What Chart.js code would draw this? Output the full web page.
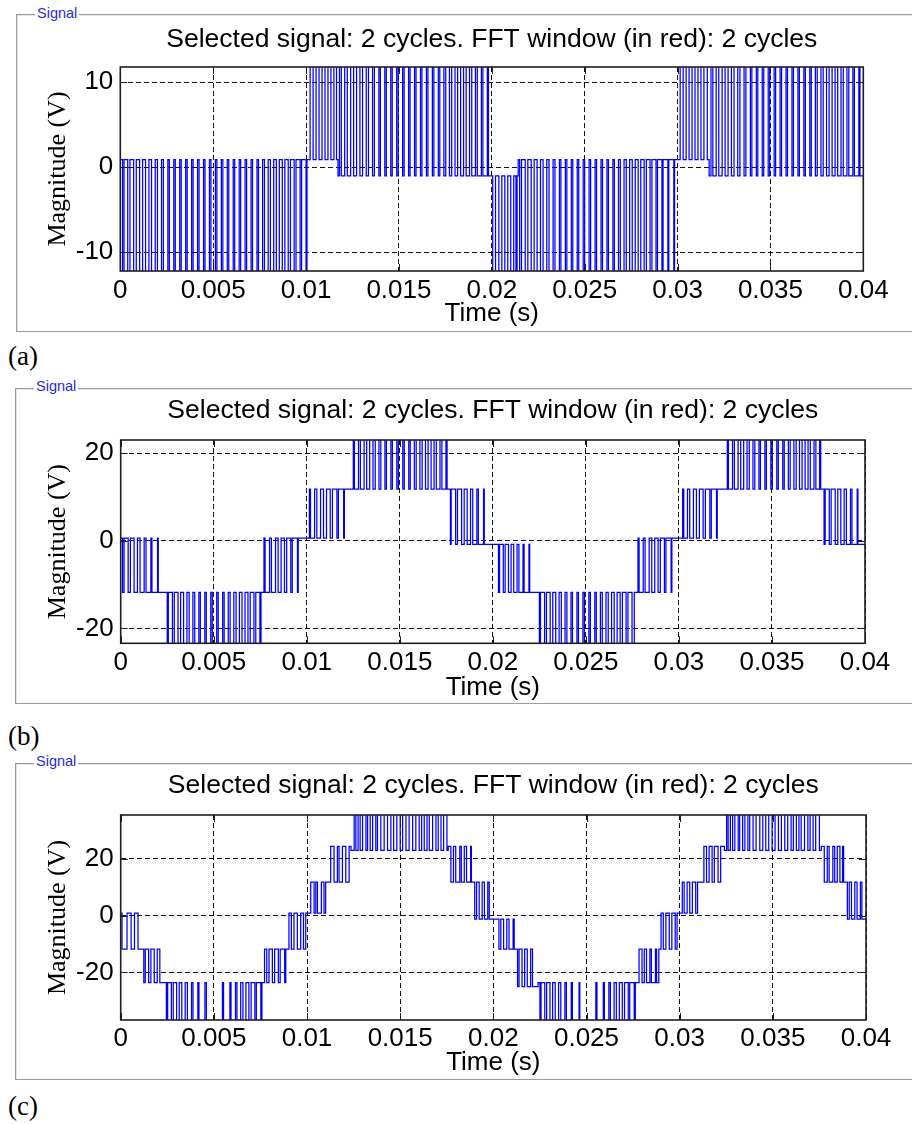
<!DOCTYPE html>
<html><head><meta charset="utf-8">
<script src="https://cdn.jsdelivr.net/npm/chart.js@4.4.1/dist/chart.umd.min.js"></script>
<style>
html,body{margin:0;padding:0;background:#fff;}
body{width:912px;height:1124px;position:relative;overflow:hidden;}
.frame{position:absolute;border:1px solid #9c9c9c;box-shadow:inset 1px 1px 0 #e4e4e4;}
.sig{position:absolute;font:14.5px "Liberation Sans",Arial,sans-serif;color:#2a2ad8;background:#fff;padding:0 2px;line-height:16px;}
.lab{position:absolute;left:8px;font:27px "Liberation Serif","Times New Roman",serif;line-height:27px;color:#000;}
canvas{position:absolute;left:0;}
</style></head><body>
<div class="frame" style="left:16px;top:14px;width:1000px;height:316px"></div>
<div class="sig" style="left:35px;top:5px">Signal</div>
<div class="lab" style="top:343px">(a)</div>
<div class="frame" style="left:15px;top:388px;width:1000px;height:314px"></div>
<div class="sig" style="left:34px;top:378px">Signal</div>
<div class="lab" style="top:723px">(b)</div>
<div class="frame" style="left:15px;top:763px;width:1000px;height:315px"></div>
<div class="sig" style="left:34px;top:753px">Signal</div>
<div class="lab" style="top:1093px">(c)</div>
<canvas id="ca" width="912" height="335" style="top:0px;width:912px;height:335px"></canvas>
<canvas id="cb" width="912" height="334" style="top:371px;width:912px;height:334px"></canvas>
<canvas id="cc" width="912" height="334" style="top:746px;width:912px;height:334px"></canvas>
<script>
const titleText = 'Selected signal: 2 cycles. FFT window (in red): 2 cycles';
const xTitle = 'Time (s)';
const yTitle = 'Magnitude (V)';
const xTickValues = [0, 0.005, 0.01, 0.015, 0.02, 0.025, 0.03, 0.035, 0.04];
const xTickLabels = ['0', '0.005', '0.01', '0.015', '0.02', '0.025', '0.03', '0.035', '0.04'];
const aYTicks = [-10, 0, 10];
const bYTicks = [-20, 0, 20];
const cYTicks = [-20, 0, 20];
const aYRange = [-12.2, 11.8];
const bYRange = [-23.4, 23.0];
const cYRange = [-36.8, 35.5];
const endMs = 40;

// Panel (a): zones (ms) with held level and pulse level, plus switching instants (ms)
const aZoneFrom = [0, 10.12, 11.72, 19.95, 21.42, 30.02, 31.70];
const aZoneBase = [0.9, 0.9, -1, -1, 0.9, 0.9, -1];
const aZonePeak = [-13, 13, 13, -13, -13, 13, 13];
const aZoneEdges = [
 [0.12,0.20, 0.40,0.52, 0.72,0.86, 1.04,1.20, 1.36,1.54, 1.68,1.88, 2.00,2.22, 2.32,2.56, 2.64,2.88, 2.96,3.20, 3.28,3.52, 3.60,3.84, 3.92,4.16, 4.24,4.48, 4.56,4.80, 4.88,5.12, 5.20,5.44, 5.52,5.76, 5.84,6.08, 6.16,6.40, 6.48,6.72, 6.80,7.04, 7.12,7.36, 7.44,7.66, 7.76,7.96, 8.08,8.26, 8.40,8.56, 8.72,8.86, 9.04,9.16, 9.36,9.46, 9.68,9.76, 10.00,10.05],
 [10.22,10.38, 10.54,10.70, 10.86,11.02, 11.18,11.34, 11.50,11.64],
 [11.80,11.90, 12.08,12.22, 12.40,12.56, 12.72,12.90, 13.04,13.24, 13.36,13.58, 13.68,13.92, 14.00,14.24, 14.32,14.56, 14.64,14.88, 14.96,15.20, 15.28,15.52, 15.60,15.84, 15.92,16.16, 16.24,16.48, 16.56,16.80, 16.88,17.12, 17.20,17.42, 17.52,17.72, 17.84,18.02, 18.16,18.32, 18.48,18.62, 18.80,18.92, 19.12,19.22, 19.44,19.52, 19.76,19.82],
 [20.05,20.20, 20.38,20.54, 20.70,20.86, 21.02,21.18, 21.30,21.36],
 [21.50,21.60, 21.80,21.94, 22.12,22.28, 22.44,22.62, 22.76,22.96, 23.08,23.30, 23.40,23.64, 23.72,23.96, 24.04,24.28, 24.36,24.60, 24.68,24.92, 25.00,25.24, 25.32,25.56, 25.64,25.88, 25.96,26.20, 26.28,26.52, 26.60,26.82, 26.92,27.12, 27.24,27.42, 27.56,27.72, 27.88,28.02, 28.20,28.32, 28.52,28.62, 28.84,28.92, 29.16,29.22, 29.48,29.53, 29.80,29.84],
 [30.14,30.30, 30.46,30.62, 30.78,30.94, 31.10,31.26, 31.42,31.60],
 [31.80,31.90, 32.08,32.22, 32.40,32.56, 32.72,32.90, 33.04,33.24, 33.36,33.58, 33.68,33.92, 34.00,34.24, 34.32,34.56, 34.64,34.88, 34.96,35.20, 35.28,35.52, 35.60,35.84, 35.92,36.16, 36.24,36.48, 36.56,36.80, 36.88,37.12, 37.20,37.42, 37.52,37.72, 37.84,38.02, 38.16,38.32, 38.48,38.62, 38.80,38.92, 39.12,39.22, 39.44,39.52, 39.76,39.82]
];

// Panel (b)
const bZoneFrom = [0, 2.40, 7.62, 10.05, 12.42, 17.62, 20.05, 22.40, 27.72, 30.10, 32.50, 37.70];
const bZoneBase = [0.6, -11.8, -11.8, 0.6, 11.8, 11.8, -0.8, -11.8, -11.8, 0.6, 11.8, 11.8];
const bZonePeak = [-11.8, -25, 0.6, 11.8, 25, -0.8, -11.8, -25, 0.6, 11.8, 25, -0.8];
const bZoneEdges = [
 [0.10,0.18, 0.40,0.52, 0.72,0.90, 1.04,1.26, 1.36,1.62, 1.68,1.98, 2.02],
 [2.50,2.56, 2.78,2.88, 3.08,3.22, 3.38,3.56, 3.68,3.88, 3.98,4.20, 4.28,4.52, 4.60,4.84, 4.92,5.16, 5.24,5.48, 5.56,5.78, 5.88,6.08, 6.20,6.38, 6.52,6.68, 6.84,6.96, 7.16,7.26, 7.48,7.54],
 [7.70,7.76, 8.00,8.10, 8.32,8.46, 8.62,8.80, 8.92,9.14, 9.22,9.50, 9.54],
 [10.14,10.20, 10.42,10.54, 10.74,10.90, 11.06,11.26, 11.38,11.62, 11.70,11.98, 12.02],
 [12.50,12.56, 12.78,12.88, 13.08,13.22, 13.38,13.56, 13.68,13.88, 13.98,14.20, 14.28,14.52, 14.60,14.84, 14.92,15.16, 15.24,15.48, 15.56,15.78, 15.88,16.08, 16.20,16.38, 16.52,16.68, 16.84,16.96, 17.16,17.26, 17.48,17.54],
 [17.72,17.76, 18.00,18.10, 18.32,18.46, 18.62,18.80, 18.92,19.14, 19.22,19.50, 19.54],
 [20.30,20.36, 20.56,20.66, 20.84,20.98, 21.12,21.30, 21.40,21.62, 21.68,21.94, 21.98],
 [22.50,22.56, 22.78,22.88, 23.08,23.22, 23.38,23.56, 23.68,23.88, 23.98,24.20, 24.28,24.52, 24.60,24.84, 24.92,25.16, 25.24,25.48, 25.56,25.78, 25.88,26.08, 26.20,26.38, 26.52,26.68, 26.84,26.96, 27.16,27.26, 27.48,27.60],
 [27.80,27.86, 28.08,28.18, 28.40,28.54, 28.70,28.88, 29.00,29.22, 29.30,29.58, 29.62],
 [30.20,30.26, 30.46,30.58, 30.78,30.94, 31.10,31.30, 31.42,31.66, 31.74,32.02, 32.06],
 [32.60,32.66, 32.88,32.98, 33.18,33.32, 33.48,33.66, 33.78,33.98, 34.08,34.30, 34.38,34.62, 34.70,34.94, 35.02,35.26, 35.34,35.58, 35.66,35.88, 35.98,36.18, 36.30,36.48, 36.62,36.78, 36.94,37.06, 37.26,37.36, 37.56,37.62],
 [37.80,37.86, 38.08,38.18, 38.40,38.54, 38.70,38.88, 39.00,39.22, 39.30,39.58, 39.62]
];

// Panel (c)
const cZoneFrom = [0, 0.95, 2.36, 7.66, 8.95, 10.05, 11.15, 12.36, 17.58, 18.85, 20.05, 21.20, 22.40, 27.70, 28.95, 30.05, 31.15, 32.40, 37.60, 38.85];
const cZoneBase = [0.9, -11.8, -23.6, -23.6, -11.8, 0.9, 11.8, 23.0, 24.4, 11.8, -1.2, -11.8, -23.6, -23.6, -11.8, 0.9, 11.8, 23.0, 24.4, 11.8];
const cZonePeak = [-11.8, -23.6, -38, -11.8, 0.9, 11.8, 24.4, 38, 11.8, -1.2, -11.8, -25, -38, -11.8, 0.9, 11.8, 24.4, 38, 11.8, -1.2];
const cZoneEdges = [
 [0.07,0.34, 0.56,0.74, 0.93],
 [1.24,1.32, 1.50,1.62, 1.80,1.96, 2.10],
 [2.45,2.52, 2.72,2.82, 3.00,3.14, 3.28,3.46, 3.58,3.80, 3.88,4.14, 4.20,4.52, 4.60,5.46, 5.52,5.86, 5.92,6.16, 6.24,6.44, 6.56,6.72, 6.88,7.00, 7.20,7.28, 7.52,7.58],
 [7.72,7.84, 7.96,8.14, 8.26,8.46, 8.56,8.80, 8.86],
 [9.03,9.16, 9.30,9.48, 9.66,9.81, 9.93],
 [10.20,10.38, 10.47,10.56, 10.77,10.91, 11.00],
 [11.27,11.45, 11.63,11.72, 11.90,12.08, 12.26],
 [12.53,12.62, 12.74,12.85, 12.98,13.16, 13.25,13.39, 13.52,13.69, 13.78,13.96, 14.14,14.32, 14.50,14.65, 14.82,15.00, 15.13,15.31, 15.48,15.67, 15.84,16.02, 16.15,16.29, 16.44,16.56, 16.74,16.92, 17.04,17.19, 17.33,17.51],
 [17.72,17.86, 17.98,18.20, 18.28,18.44, 18.56,18.78, 18.82],
 [19.00,19.10, 19.24,19.40, 19.52,19.70, 19.78],
 [20.30,20.40, 20.55,20.72, 20.84,21.06, 21.12],
 [21.30,21.38, 21.54,21.68, 21.82,22.00, 22.10],
 [22.50,22.56, 22.76,22.86, 23.04,23.18, 23.32,23.50, 23.62,23.84, 23.92,24.18, 24.24,24.60, 24.64,25.50, 25.56,25.90, 25.96,26.20, 26.28,26.48, 26.60,26.76, 26.92,27.04, 27.24,27.32, 27.56,27.62],
 [27.82,27.98, 28.10,28.22, 28.40,28.48, 28.70,28.76, 28.88],
 [29.00,29.12, 29.26,29.44, 29.58,29.76, 29.86],
 [30.14,30.24, 30.40,30.54, 30.68,30.86, 30.96],
 [31.30,31.44, 31.58,31.74, 31.86,32.06, 32.20],
 [32.52,32.60, 32.72,32.84, 32.96,33.14, 33.22,33.38, 33.50,33.66, 33.76,33.94, 34.10,34.30, 34.46,34.62, 34.78,34.96, 35.12,35.30, 35.46,35.64, 35.80,35.98, 36.10,36.26, 36.40,36.52, 36.70,36.88, 37.00,37.16, 37.30,37.50],
 [37.76,37.92, 38.02,38.22, 38.32,38.46, 38.60,38.74, 38.80],
 [39.00,39.10, 39.22,39.40, 39.52,39.70, 39.78]
];

const SANS = '"Liberation Sans", Arial, Helvetica, sans-serif';
const SERIF = '"Liberation Serif", "Times New Roman", serif';

function buildSeries(from, base, peak, edges) {
  const pts = [];
  let cur = base[0];
  for (let i = 0; i < from.length; i++) {
    cur = base[i];
    pts.push({x: from[i] / 1000, y: cur});
    for (const e of edges[i]) {
      cur = (cur === base[i]) ? peak[i] : base[i];
      pts.push({x: e / 1000, y: cur});
    }
  }
  pts.push({x: endMs / 1000, y: cur});
  return pts;
}

const boxPlugin = {
  id: 'matlabBox',
  afterDatasetsDraw(chart) {
    const {ctx, chartArea: a, scales} = chart;
    ctx.save();
    ctx.strokeStyle = '#1e1e1e';
    ctx.lineWidth = 1;
    ctx.beginPath();
    for (const v of xTickValues) {
      const x = Math.round(scales.x.getPixelForValue(v)) + 0.5;
      ctx.moveTo(x, a.bottom); ctx.lineTo(x, a.bottom - 7);
      ctx.moveTo(x, a.top); ctx.lineTo(x, a.top + 7);
    }
    for (const t of scales.y.ticks) {
      const y = Math.round(scales.y.getPixelForValue(t.value)) + 0.5;
      ctx.moveTo(a.left, y); ctx.lineTo(a.left + 7, y);
      ctx.moveTo(a.right, y); ctx.lineTo(a.right - 7, y);
    }
    ctx.stroke();
    ctx.lineWidth = 1.6;
    ctx.strokeRect(a.left, a.top, a.right - a.left, a.bottom - a.top);
    ctx.restore();
  }
};

function makeChart(id, pts, yTicks, yRange, L) {
  new Chart(document.getElementById(id), {
    type: 'line',
    data: {datasets: [{data: pts, borderColor: '#0000ff', borderWidth: 1.25, pointRadius: 0, stepped: 'before', fill: false, tension: 0}]},
    options: {
      responsive: false, animation: false, events: [], parsing: false,
      layout: {padding: {left: 0, right: L.padRight, top: 0, bottom: 0}},
      plugins: {
        legend: {display: false}, tooltip: {enabled: false},
        title: {display: true, fullSize: false, text: titleText, color: '#000',
          font: {family: SANS, size: 26.5, weight: 'normal'},
          padding: {top: L.titleTop, bottom: L.titleBottom}}
      },
      scales: {
        x: {
          type: 'linear', min: 0, max: 0.04,
          afterBuildTicks: s => { s.ticks = xTickValues.map(v => ({value: v})); },
          afterFit: s => { s.height = L.xH; },
          ticks: {autoSkip: false, maxRotation: 0, minRotation: 0, padding: L.xTickPad, color: '#000',
            font: {family: SANS, size: 26}, callback: (v, i) => xTickLabels[i]},
          grid: {color: '#111', lineWidth: 1, drawTicks: false},
          border: {display: false, dash: [5, 3]},
          title: {display: true, text: xTitle, color: '#000', font: {family: SANS, size: 26},
            padding: {top: 0, bottom: L.xTitlePad}}
        },
        y: {
          type: 'linear', min: yRange[0], max: yRange[1],
          afterBuildTicks: s => { s.ticks = yTicks.map(v => ({value: v})); },
          afterFit: s => { s.width = L.yW; },
          ticks: {padding: 7, color: '#000', font: {family: SANS, size: 26}, callback: v => String(v)},
          grid: {color: '#111', lineWidth: 1, drawTicks: false},
          border: {display: false, dash: [5, 3]},
          title: {display: true, text: yTitle, color: '#000', font: {family: SERIF, size: 26},
            padding: {top: 42.4, bottom: 0}}
        }
      }
    },
    plugins: [boxPlugin]
  });
}

makeChart('ca', buildSeries(aZoneFrom, aZoneBase, aZonePeak, aZoneEdges), aYTicks, aYRange,
  {padRight: 48.7, titleTop: 23.9, titleBottom: 11.3, xH: 64, xTickPad: 4.4, xTitlePad: 5.1, yW: 120.3});
makeChart('cb', buildSeries(bZoneFrom, bZoneBase, bZonePeak, bZoneEdges), bYTicks, bYRange,
  {padRight: 47, titleTop: 23.9, titleBottom: 13.3, xH: 61.7, xTickPad: 3.8, xTitlePad: 1.7, yW: 120.7});
makeChart('cc', buildSeries(cZoneFrom, cZoneBase, cZonePeak, cZoneEdges), cYTicks, cYRange,
  {padRight: 46, titleTop: 23.9, titleBottom: 13.3, xH: 60, xTickPad: 3.7, xTitlePad: 1.7, yW: 120.7});
</script>
</body></html>
